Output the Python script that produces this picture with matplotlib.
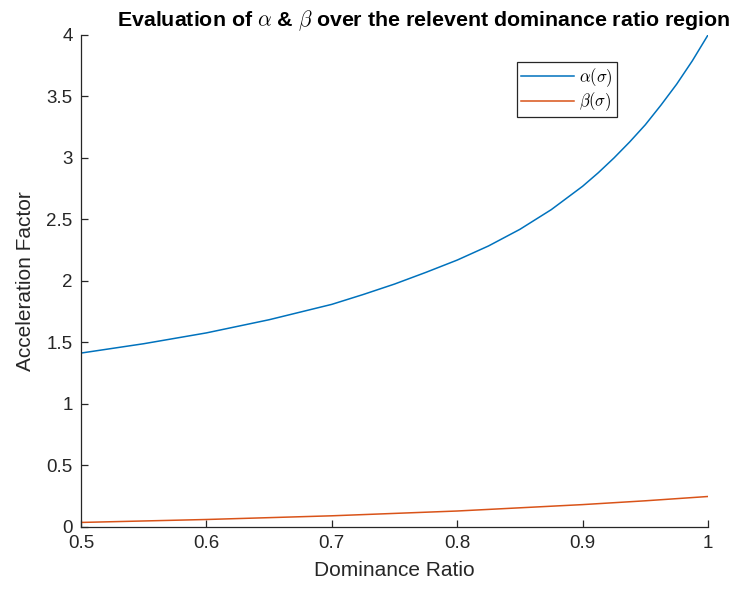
import matplotlib
matplotlib.use('Agg')
import matplotlib.pyplot as plt

# dominance ratio samples and the two acceleration factors
SIGMA = [0.5, 0.55, 0.6, 0.65, 0.7, 0.725, 0.75, 0.775, 0.8, 0.825, 0.85,
         0.875, 0.9, 0.9125, 0.925, 0.9375, 0.95, 0.9625, 0.975, 0.9875, 1.0]
ALPHA = [1.414, 1.49, 1.578, 1.685, 1.81, 1.89, 1.975, 2.07, 2.17, 2.285, 2.42,
         2.58, 2.77, 2.88, 3.0, 3.13, 3.27, 3.43, 3.6, 3.79, 4.0]

SIGMA_B = [0.5, 0.6, 0.7, 0.8, 0.9, 0.95, 1.0]
BETA = [0.037, 0.061, 0.091, 0.13, 0.182, 0.213, 0.248]

BLUE = '#0072BD'
ORANGE = '#D95319'
DARK = '#262626'

plt.rcParams['font.family'] = ['Liberation Sans', 'DejaVu Sans']
plt.rcParams['mathtext.fontset'] = 'cm'

fig = plt.figure(figsize=(7.33, 5.94), dpi=100)
ax = fig.add_axes([0.1105, 0.1128, 0.8554, 0.8283])

ax.plot(SIGMA, ALPHA, color=BLUE, linewidth=1.1, label=r'$\alpha(\sigma)$')
ax.plot(SIGMA_B, BETA, color=ORANGE, linewidth=1.1, label=r'$\beta(\sigma)$')

ax.set_xlim(0.5, 1.0)
ax.set_ylim(0, 4)
ax.set_xticks([0.5, 0.6, 0.7, 0.8, 0.9, 1.0])
ax.set_xticklabels(['0.5', '0.6', '0.7', '0.8', '0.9', '1'])
ax.set_yticks([0, 0.5, 1, 1.5, 2, 2.5, 3, 3.5, 4])
ax.set_yticklabels(['0', '0.5', '1', '1.5', '2', '2.5', '3', '3.5', '4'])

for side in ('top', 'right'):
    ax.spines[side].set_visible(False)
for side in ('left', 'bottom'):
    ax.spines[side].set_color(DARK)
    ax.spines[side].set_linewidth(0.9)
ax.tick_params(direction='in', length=5, width=0.9, colors=DARK,
               labelsize=13.5, pad=6)

ax.set_xlabel('Dominance Ratio', fontsize=15, color=DARK, labelpad=6)
ax.set_ylabel('Acceleration Factor', fontsize=15, color=DARK, labelpad=8)
ax.set_title(r'Evaluation of $\alpha$ & $\beta$ over the relevent dominance ratio region',
             fontsize=15.4, fontweight='bold', x=0.547, pad=6)

leg = ax.legend(loc='upper right', bbox_to_anchor=(0.868, 0.962),
                fontsize=12, handlelength=3.2, handletextpad=0.3,
                borderpad=0.25, labelspacing=0.1, fancybox=False,
                framealpha=1, edgecolor=DARK)
leg.get_frame().set_linewidth(0.9)

fig.savefig('out.png', dpi=100)
